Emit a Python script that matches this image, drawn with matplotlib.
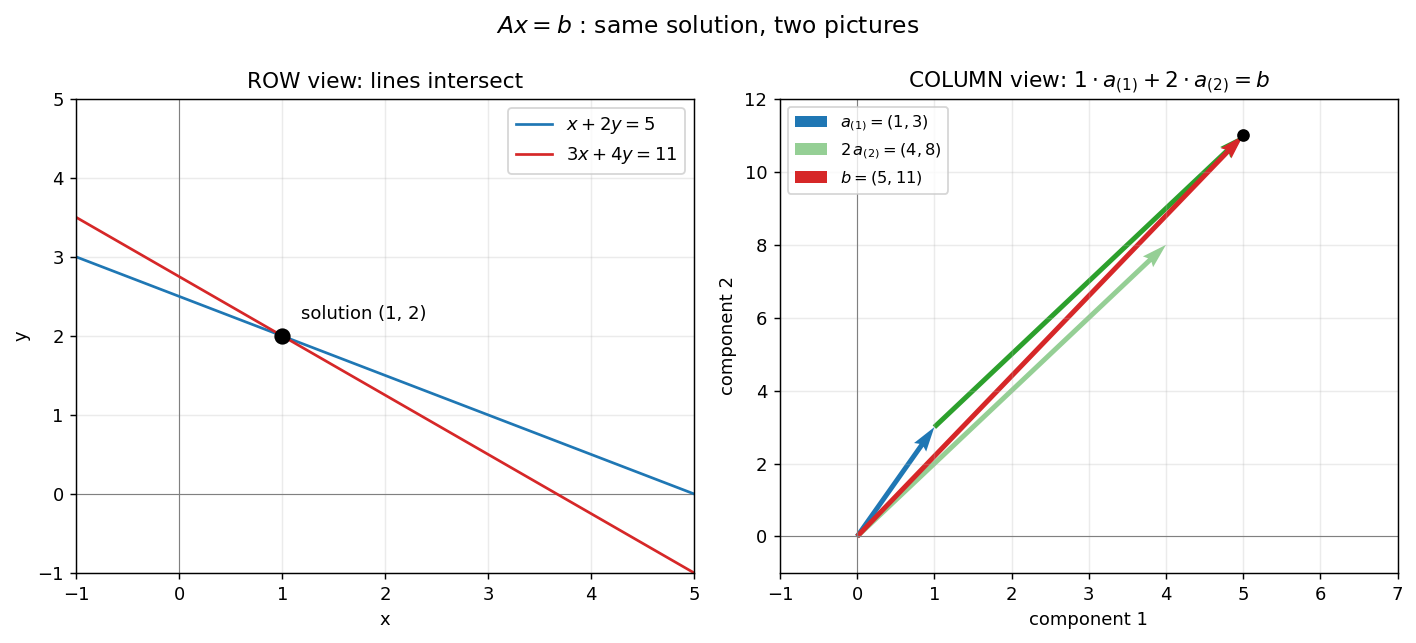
import matplotlib.pyplot as plt
import numpy as np

# row picture
x_range = [-1, 5]
sol = (1, 2)

# column picture vectors
a1 = (1, 3)
a2_twice = (4, 8)
b = (5, 11)

fig, (ax1, ax2) = plt.subplots(1, 2, figsize=(1416/130, 643/130), dpi=130)
fig.subplots_adjust(left=0.054, right=0.987, top=0.846, bottom=0.109, wspace=0.139)

xs = np.linspace(x_range[0], x_range[1], 100)
ax1.axhline(0, color="gray", lw=0.6)
ax1.axvline(0, color="gray", lw=0.6)
ax1.plot(xs, (5 - xs) / 2, color="tab:blue", label=r"$x + 2y = 5$")
ax1.plot(xs, (11 - 3*xs) / 4, color="tab:red", label=r"$3x + 4y = 11$")
ax1.plot(*sol, "ko", ms=8, zorder=5)
ax1.annotate("solution (1, 2)", sol, xytext=(sol[0] + 0.18, sol[1] + 0.22))
ax1.set_xlim(-1, 5)
ax1.set_ylim(-1, 5)
ax1.set_xlabel("x")
ax1.set_ylabel("y")
ax1.set_title("ROW view: lines intersect")
ax1.grid(alpha=0.25)
ax1.legend(loc="upper right")

ax2.axhline(0, color="gray", lw=0.6)
ax2.axvline(0, color="gray", lw=0.6)
kw = dict(angles="xy", scale_units="xy", scale=1, width=0.008)
ax2.quiver(0, 0, *a1, color="tab:blue", label=r"$a_{(1)} = (1, 3)$", **kw)
ax2.quiver(0, 0, *a2_twice, color="tab:green", alpha=0.5, label=r"$2\,a_{(2)} = (4, 8)$", **kw)
ax2.quiver(a1[0], a1[1], *a2_twice, color="tab:green", **kw)
ax2.quiver(0, 0, *b, color="tab:red", label=r"$b = (5, 11)$", **kw)
ax2.plot(*b, "ko", ms=6, zorder=5)
ax2.set_xlim(-1, 7)
ax2.set_ylim(-1, 12)
ax2.set_xlabel("component 1")
ax2.set_ylabel("component 2")
ax2.set_title(r"COLUMN view: $1\cdot a_{(1)} + 2\cdot a_{(2)} = b$")
ax2.grid(alpha=0.25)
ax2.legend(loc="upper left", fontsize=9)

fig.suptitle(r"$Ax=b$ : same solution, two pictures", fontsize=13)

plt.savefig("out.png")
